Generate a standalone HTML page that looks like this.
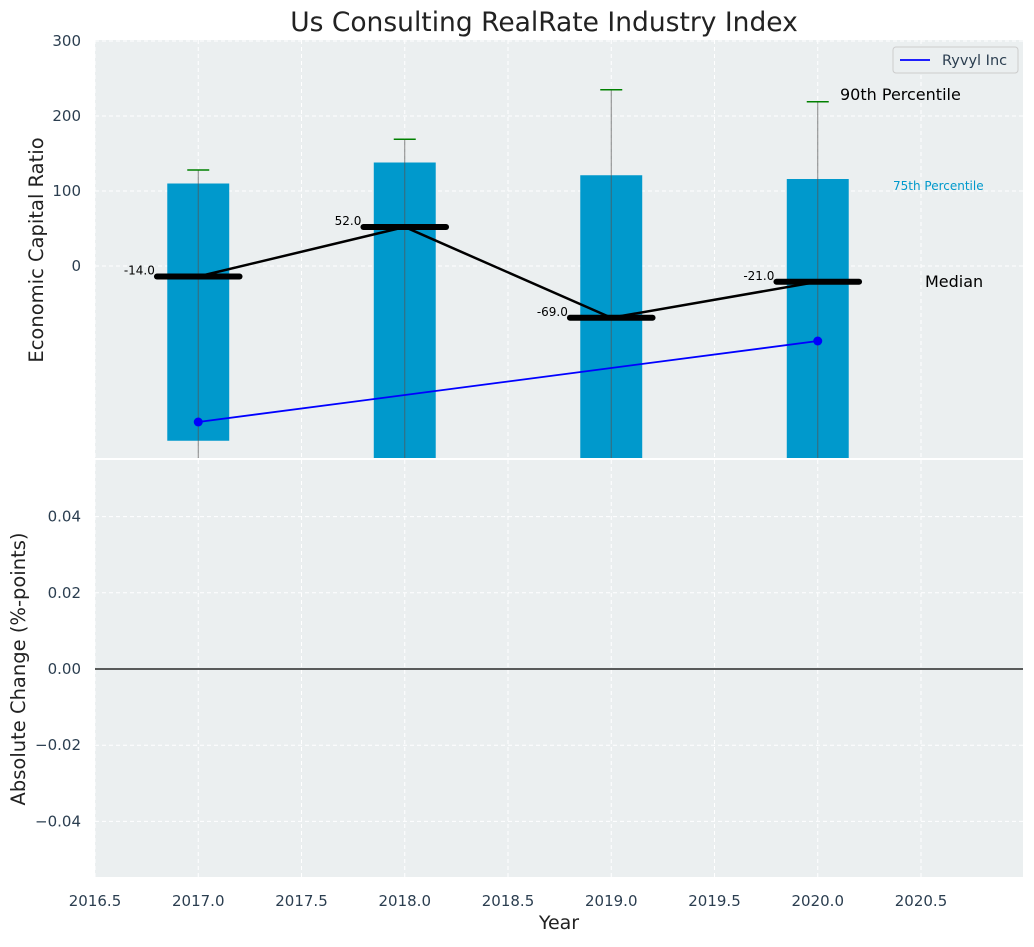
<!DOCTYPE html>
<html><head><meta charset="utf-8"><style>
body{margin:0;background:#fff;}
svg text{font-family:"DejaVu Sans","Liberation Sans",sans-serif;}
</style></head><body>
<svg id="c" width="1034" height="942" xmlns="http://www.w3.org/2000/svg"></svg>
<script>
const years=[2017,2018,2019,2020];
const p75=[110,138,121,116];
const p25=[-233,-300,-300,-300];
const p90=[128,169,235,219];
const p10=[-300,-300,-300,-300];
const medians=[-14,52,-69,-21];
const ryvylYears=[2017,2020];
const ryvylVals=[-208,-100];
const yTicksTop=[0,100,200,300];
const yTicksBot=[-0.04,-0.02,0,0.02,0.04];
const xTicks=[2016.5,2017,2017.5,2018,2018.5,2019,2019.5,2020,2020.5];

const NS="http://www.w3.org/2000/svg";
const svg=document.getElementById('c');
function el(t,a,parent){const e=document.createElementNS(NS,t);for(const k in a)e.setAttribute(k,a[k]);(parent||svg).appendChild(e);return e;}
const L=95,R=1023,T1=40,B1=458,T2=460,B2=877;
const x=v=>L+(v-2016.5)*206.5;
const y1=v=>266-v*0.75;
const y2=v=>669-v*3810;
const cl=v=>Math.max(T1,Math.min(B1,v));

let e;
e=el('rect',{x:L,y:T1,width:R-L,height:B1-T1,fill:'#ebeff0'});

e=el('rect',{x:L,y:T2,width:R-L,height:B2-T2,fill:'#ebeff0'});

xTicks.forEach(t=>{
 e=el('line',{x1:x(t),x2:x(t),y1:T1,y2:B1,stroke:'#fff','stroke-dasharray':'4,3','stroke-width':1});
 
 e=el('line',{x1:x(t),x2:x(t),y1:T2,y2:B2,stroke:'#fff','stroke-dasharray':'4,3','stroke-width':1});
 
 e=el('text',{x:x(t),y:906,'text-anchor':'middle','font-size':15,fill:'#2b3e50'});e.textContent=t.toFixed(1);
 
});
yTicksTop.forEach(t=>{
 e=el('line',{x1:L,x2:R,y1:y1(t),y2:y1(t),stroke:'#fff','stroke-dasharray':'4,3'});
 
 e=el('text',{x:81,y:y1(t)+5,'text-anchor':'end','font-size':15,fill:'#2b3e50'});e.textContent=t;
 
});
yTicksBot.forEach(t=>{
 e=el('line',{x1:L,x2:R,y1:y2(t),y2:y2(t),stroke:'#fff','stroke-dasharray':'4,3'});
 
 e=el('text',{x:81,y:y2(t)+5,'text-anchor':'end','font-size':15,fill:'#2b3e50'});e.textContent=(t<0?'\u22120.0':'0.0')+Math.abs(t*100).toFixed(0);
 if(t===0)e.textContent='0.00';
 
});
years.forEach((yr,i)=>{
 const top=cl(y1(p75[i])),bot=cl(y1(p25[i]));
 e=el('rect',{x:x(yr-0.15),y:top,width:0.3*206.5,height:bot-top,fill:'#0099cc'});
 
 e=el('line',{x1:x(yr),x2:x(yr),y1:cl(y1(p90[i])),y2:cl(y1(p10[i])),stroke:'#555','stroke-width':1,opacity:0.7});
 
 e=el('line',{x1:x(yr)-11,x2:x(yr)+11,y1:y1(p90[i]),y2:y1(p90[i]),stroke:'#008000','stroke-width':1.5});
 
});
e=el('polyline',{points:years.map((yr,i)=>x(yr)+','+y1(medians[i])).join(' '),fill:'none',stroke:'#000','stroke-width':2.5});

years.forEach((yr,i)=>{
 e=el('line',{x1:x(yr-0.2),x2:x(yr+0.2),y1:y1(medians[i]),y2:y1(medians[i]),stroke:'#000','stroke-width':6,'stroke-linecap':'round'});
 
 e=el('text',{x:x(yr-0.21),y:y1(medians[i])-2,'text-anchor':'end','font-size':12,fill:'#000'});e.textContent=medians[i].toFixed(1);
 
});
e=el('polyline',{points:ryvylYears.map((yr,i)=>x(yr)+','+y1(ryvylVals[i])).join(' '),fill:'none',stroke:'#0000ff','stroke-width':1.8});

ryvylYears.forEach((yr,i)=>{
 e=el('circle',{cx:x(yr),cy:y1(ryvylVals[i]),r:4.5,fill:'#0000ff'});
 
});
e=el('text',{x:840,y:100,'font-size':16,fill:'#000'});e.textContent='90th Percentile';

e=el('text',{x:893,y:190,'font-size':12,fill:'#0099cc'});e.textContent='75th Percentile';

e=el('text',{x:925,y:287,'font-size':16,fill:'#000'});e.textContent='Median';

e=el('line',{x1:L,x2:R,y1:y2(0),y2:y2(0),stroke:'#000','stroke-width':1.2});

el('line',{x1:L,x2:R,y1:459,y2:459,stroke:'#fff','stroke-width':2});
const g=el('g',{});
el('rect',{x:893,y:47,width:125,height:26,rx:3,fill:'#ebeff0',stroke:'#ccc'},g);
el('line',{x1:900,x2:930,y1:60,y2:60,stroke:'#0000ff','stroke-width':1.8},g);
e=el('text',{x:942,y:65,'font-size':14.5,fill:'#2b3e50'},g);e.textContent='Ryvyl Inc';

e=el('text',{x:544,y:31,'text-anchor':'middle','font-size':26.5,fill:'#222'});e.textContent='Us Consulting RealRate Industry Index';

e=el('text',{x:559,y:929,'text-anchor':'middle','font-size':19,fill:'#222'});e.textContent='Year';

e=el('text',{x:0,y:0,'text-anchor':'middle','font-size':19.5,fill:'#222',transform:'translate(43,250) rotate(-90)'});e.textContent='Economic Capital Ratio';

e=el('text',{x:0,y:0,'text-anchor':'middle','font-size':19.5,fill:'#222',transform:'translate(25,669) rotate(-90)'});e.textContent='Absolute Change (%-points)';

</script>
</body></html>
